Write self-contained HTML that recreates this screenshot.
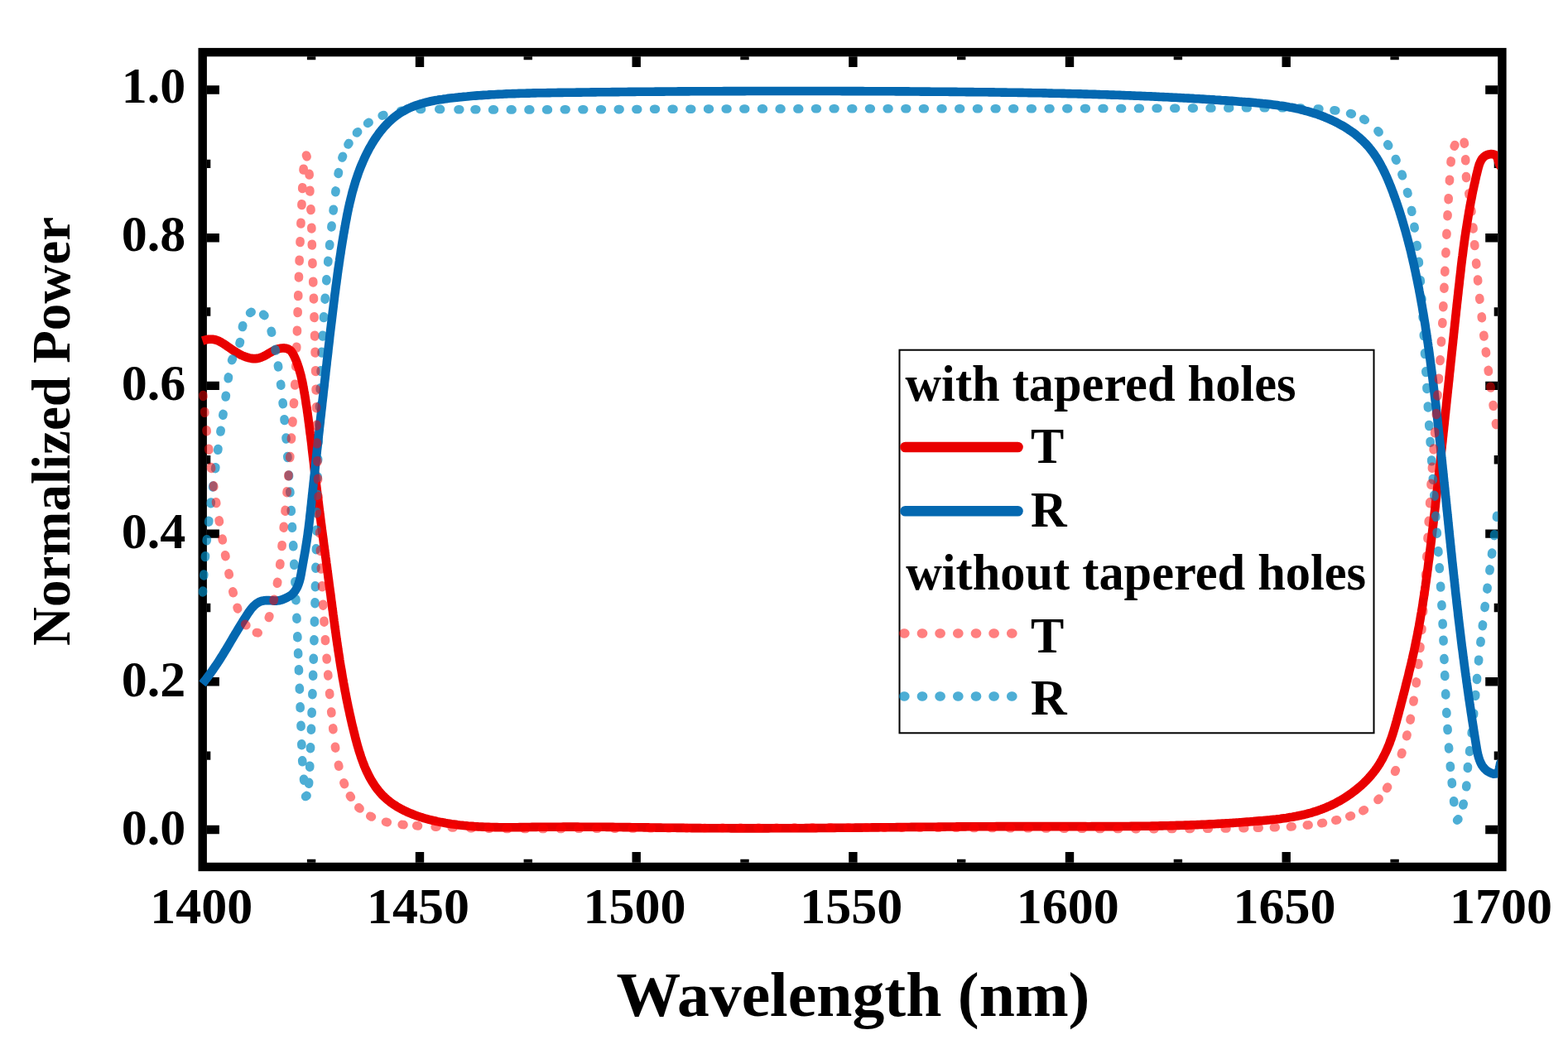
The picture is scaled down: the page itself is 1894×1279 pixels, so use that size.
<!DOCTYPE html>
<html><head><meta charset="utf-8"><title>Normalized Power vs Wavelength</title>
<style>
html,body{margin:0;padding:0;background:#fff;}
svg{display:block;}
text{font-family:"Liberation Serif","Times New Roman",serif;font-weight:bold;fill:#000;}
</style></head><body>
<svg width="1894" height="1279" viewBox="0 0 1894 1279">
<rect x="0" y="0" width="1894" height="1279" fill="#fff"/>
<rect x="244.7" y="63.1" width="1569.7" height="983.9" fill="none" stroke="#000" stroke-width="10.4"/>
<path d="M376.1 1041.8V1037.8 M376.1 68.3V72.3 M507.0 1041.8V1029.0 M507.0 68.3V81.1 M637.8 1041.8V1037.8 M637.8 68.3V72.3 M768.7 1041.8V1029.0 M768.7 68.3V81.1 M899.5 1041.8V1037.8 M899.5 68.3V72.3 M1030.4 1041.8V1029.0 M1030.4 68.3V81.1 M1161.2 1041.8V1037.8 M1161.2 68.3V72.3 M1292.0 1041.8V1029.0 M1292.0 68.3V81.1 M1422.9 1041.8V1037.8 M1422.9 68.3V72.3 M1553.7 1041.8V1029.0 M1553.7 68.3V81.1 M1684.6 1041.8V1037.8 M1684.6 68.3V72.3 M249.8 1002.0H264.9 M1809.2 1002.0H1794.2 M249.8 912.6H254.3 M1809.2 912.6H1804.7 M249.8 823.3H264.9 M1809.2 823.3H1794.2 M249.8 734.0H254.3 M1809.2 734.0H1804.7 M249.8 644.6H264.9 M1809.2 644.6H1794.2 M249.8 555.2H254.3 M1809.2 555.2H1804.7 M249.8 465.9H264.9 M1809.2 465.9H1794.2 M249.8 376.5H254.3 M1809.2 376.5H1804.7 M249.8 287.2H264.9 M1809.2 287.2H1794.2 M249.8 197.9H254.3 M1809.2 197.9H1804.7 M249.8 108.5H264.9 M1809.2 108.5H1794.2" stroke="#000" stroke-width="10.4" fill="none"/>
<defs><clipPath id="pc"><rect x="0" y="0" width="1809.3" height="1279"/></clipPath></defs>
<g clip-path="url(#pc)">
<path d="M244.6 411.6 L247.0 410.8 L249.4 410.2 L251.9 409.8 L254.4 409.7 L256.9 409.8 L259.3 410.2 L261.7 410.9 L264.1 411.8 L266.3 412.9 L268.5 414.2 L270.6 415.5 L272.7 416.9 L274.7 418.3 L276.8 419.8 L278.8 421.2 L280.9 422.6 L283.0 424.0 L285.1 425.3 L287.3 426.6 L289.5 427.8 L291.7 429.0 L294.0 430.0 L296.3 430.9 L298.7 431.7 L301.1 432.4 L303.5 432.9 L306.0 433.1 L308.5 433.1 L311.0 432.9 L313.5 432.3 L315.8 431.5 L318.1 430.5 L320.3 429.3 L322.5 428.1 L324.7 426.8 L326.8 425.6 L329.0 424.4 L331.2 423.2 L333.5 422.2 L335.9 421.4 L338.3 420.8 L340.8 420.5 L343.3 420.4 L345.8 420.8 L348.2 421.6 L350.3 422.8 L352.1 424.6 L353.5 426.7 L354.7 428.9 L355.8 431.1 L356.8 433.4 L357.8 435.7 L358.7 438.0 L359.5 440.4 L360.4 442.8 L361.1 445.1 L361.8 447.5 L362.5 449.9 L363.2 452.4 L363.8 454.8 L364.3 457.2 L364.9 459.7 L365.4 462.1 L365.9 464.6 L366.3 467.0 L366.8 469.5 L367.2 472.0 L367.6 474.4 L368.1 476.9 L368.5 479.4 L368.9 481.9 L369.3 484.3 L369.6 486.8 L370.0 489.3 L370.4 491.7 L370.8 494.2 L371.1 496.7 L371.5 499.2 L371.8 501.7 L372.2 504.1 L372.5 506.6 L372.8 509.1 L373.2 511.6 L373.5 514.1 L373.8 516.5 L374.1 519.0 L374.4 521.5 L374.7 524.0 L375.1 526.5 L375.4 529.0 L375.7 531.5 L376.0 533.9 L376.3 536.4 L376.6 538.9 L376.8 541.4 L377.1 543.9 L377.4 546.4 L377.7 548.9 L378.0 551.3 L378.3 553.8 L378.6 556.3 L378.9 558.8 L379.2 561.3 L379.4 563.8 L379.7 566.3 L380.0 568.7 L380.3 571.2 L380.6 573.7 L380.9 576.2 L381.2 578.7 L381.5 581.2 L381.8 583.7 L382.1 586.1 L382.4 588.6 L382.7 591.1 L383.0 593.6 L383.3 596.1 L383.6 598.6 L383.9 601.1 L384.2 603.5 L384.6 606.0 L384.9 608.5 L385.2 611.0 L385.5 613.5 L385.8 616.0 L386.1 618.4 L386.5 620.9 L386.8 623.4 L387.1 625.9 L387.4 628.4 L387.7 630.9 L388.1 633.3 L388.4 635.8 L388.7 638.3 L389.0 640.8 L389.4 643.3 L389.7 645.7 L390.0 648.2 L390.4 650.7 L390.7 653.2 L391.0 655.7 L391.3 658.2 L391.7 660.6 L392.0 663.1 L392.3 665.6 L392.7 668.1 L393.0 670.6 L393.3 673.0 L393.7 675.5 L394.0 678.0 L394.3 680.5 L394.7 683.0 L395.0 685.5 L395.3 687.9 L395.6 690.4 L396.0 692.9 L396.3 695.4 L396.6 697.9 L397.0 700.3 L397.3 702.8 L397.6 705.3 L397.9 707.8 L398.3 710.3 L398.6 712.8 L398.9 715.2 L399.3 717.7 L399.6 720.2 L399.9 722.7 L400.2 725.2 L400.6 727.6 L400.9 730.1 L401.2 732.6 L401.5 735.1 L401.9 737.6 L402.2 740.1 L402.5 742.5 L402.9 745.0 L403.2 747.5 L403.5 750.0 L403.9 752.5 L404.2 754.9 L404.5 757.4 L404.9 759.9 L405.2 762.4 L405.6 764.9 L405.9 767.3 L406.3 769.8 L406.6 772.3 L407.0 774.8 L407.3 777.2 L407.7 779.7 L408.1 782.2 L408.4 784.7 L408.8 787.2 L409.2 789.6 L409.6 792.1 L410.0 794.6 L410.3 797.0 L410.7 799.5 L411.1 802.0 L411.5 804.5 L411.9 806.9 L412.4 809.4 L412.8 811.9 L413.2 814.3 L413.6 816.8 L414.0 819.3 L414.5 821.7 L414.9 824.2 L415.4 826.7 L415.8 829.1 L416.3 831.6 L416.7 834.1 L417.2 836.5 L417.7 839.0 L418.1 841.4 L418.6 843.9 L419.1 846.3 L419.6 848.8 L420.1 851.2 L420.6 853.7 L421.1 856.1 L421.7 858.6 L422.2 861.0 L422.7 863.5 L423.3 865.9 L423.8 868.4 L424.4 870.8 L424.9 873.3 L425.5 875.7 L426.1 878.1 L426.7 880.6 L427.3 883.0 L427.9 885.4 L428.5 887.8 L429.1 890.3 L429.7 892.7 L430.4 895.1 L431.0 897.5 L431.7 899.9 L432.4 902.4 L433.1 904.8 L433.8 907.1 L434.6 909.5 L435.4 911.9 L436.1 914.3 L437.0 916.7 L437.8 919.0 L438.7 921.4 L439.6 923.7 L440.5 926.0 L441.5 928.3 L442.5 930.6 L443.6 932.9 L444.7 935.1 L445.8 937.4 L447.0 939.6 L448.2 941.8 L449.5 943.9 L450.8 946.0 L452.2 948.1 L453.6 950.2 L455.1 952.2 L456.6 954.2 L458.2 956.1 L459.8 958.0 L461.5 959.9 L463.3 961.7 L465.1 963.4 L466.9 965.0 L468.9 966.7 L470.8 968.2 L472.8 969.7 L474.9 971.2 L477.0 972.5 L479.1 973.9 L481.2 975.2 L483.4 976.4 L485.6 977.6 L487.8 978.7 L490.1 979.8 L492.4 980.9 L494.7 981.9 L497.0 982.8 L499.3 983.7 L501.6 984.6 L504.0 985.5 L506.4 986.3 L508.8 987.0 L511.1 987.8 L513.5 988.5 L516.0 989.2 L518.4 989.8 L520.8 990.4 L523.2 991.0 L525.7 991.5 L528.1 992.1 L530.6 992.6 L533.0 993.1 L535.5 993.5 L538.0 994.0 L540.4 994.4 L542.9 994.8 L545.4 995.2 L547.9 995.5 L550.3 995.8 L552.8 996.2 L555.3 996.5 L557.8 996.7 L560.3 997.0 L562.8 997.2 L565.3 997.5 L567.8 997.7 L570.3 997.9 L572.8 998.1 L575.2 998.2 L577.7 998.4 L580.2 998.5 L582.7 998.6 L585.2 998.7 L587.8 998.8 L590.3 998.9 L592.8 999.0 L595.3 999.0 L597.8 999.1 L600.3 999.1 L602.8 999.2 L605.3 999.2 L607.8 999.2 L610.3 999.2 L612.8 999.2 L615.3 999.2 L617.8 999.2 L620.3 999.2 L622.8 999.2 L625.3 999.2 L627.8 999.1 L630.3 999.1 L632.8 999.1 L635.3 999.0 L637.8 999.0 L640.3 999.0 L642.8 998.9 L645.3 998.9 L647.8 998.9 L650.3 998.8 L652.8 998.8 L655.3 998.8 L657.8 998.8 L660.3 998.7 L662.8 998.7 L665.3 998.7 L667.9 998.7 L670.4 998.7 L672.9 998.7 L675.4 998.7 L677.9 998.7 L680.4 998.6 L682.9 998.6 L685.4 998.6 L687.9 998.6 L690.4 998.6 L692.9 998.6 L695.4 998.6 L697.9 998.6 L700.4 998.7 L702.9 998.7 L705.4 998.7 L707.9 998.7 L710.4 998.7 L712.9 998.7 L715.4 998.7 L717.9 998.7 L720.4 998.8 L722.9 998.8 L725.4 998.8 L727.9 998.8 L730.4 998.8 L732.9 998.9 L735.4 998.9 L737.9 998.9 L740.4 998.9 L743.0 999.0 L745.5 999.0 L748.0 999.0 L750.5 999.0 L753.0 999.1 L755.5 999.1 L758.0 999.1 L760.5 999.1 L763.0 999.2 L765.5 999.2 L768.0 999.2 L770.5 999.3 L773.0 999.3 L775.5 999.3 L778.0 999.4 L780.5 999.4 L783.0 999.4 L785.5 999.5 L788.0 999.5 L790.5 999.5 L793.0 999.6 L795.5 999.6 L798.0 999.6 L800.5 999.7 L803.0 999.7 L805.5 999.7 L808.0 999.7 L810.5 999.8 L813.0 999.8 L815.5 999.8 L818.0 999.9 L820.6 999.9 L823.1 999.9 L825.6 999.9 L828.1 1000.0 L830.6 1000.0 L833.1 1000.0 L835.6 1000.1 L838.1 1000.1 L840.6 1000.1 L843.1 1000.1 L845.6 1000.1 L848.1 1000.2 L850.6 1000.2 L853.1 1000.2 L855.6 1000.2 L858.1 1000.2 L860.6 1000.3 L863.1 1000.3 L865.6 1000.3 L868.1 1000.3 L870.6 1000.3 L873.1 1000.3 L875.6 1000.3 L878.1 1000.3 L880.6 1000.3 L883.1 1000.4 L885.6 1000.4 L888.1 1000.4 L890.6 1000.4 L893.1 1000.4 L895.7 1000.4 L898.2 1000.4 L900.7 1000.4 L903.2 1000.4 L905.7 1000.4 L908.2 1000.4 L910.7 1000.4 L913.2 1000.4 L915.7 1000.4 L918.2 1000.4 L920.7 1000.4 L923.2 1000.4 L925.7 1000.4 L928.2 1000.4 L930.7 1000.3 L933.2 1000.3 L935.7 1000.3 L938.2 1000.3 L940.7 1000.3 L943.2 1000.3 L945.7 1000.3 L948.2 1000.3 L950.7 1000.3 L953.2 1000.3 L955.7 1000.2 L958.2 1000.2 L960.7 1000.2 L963.2 1000.2 L965.7 1000.2 L968.2 1000.2 L970.8 1000.2 L973.3 1000.1 L975.8 1000.1 L978.3 1000.1 L980.8 1000.1 L983.3 1000.1 L985.8 1000.1 L988.3 1000.0 L990.8 1000.0 L993.3 1000.0 L995.8 1000.0 L998.3 1000.0 L1000.8 999.9 L1003.3 999.9 L1005.8 999.9 L1008.3 999.9 L1010.8 999.8 L1013.3 999.8 L1015.8 999.8 L1018.3 999.8 L1020.8 999.8 L1023.3 999.7 L1025.8 999.7 L1028.3 999.7 L1030.8 999.7 L1033.3 999.6 L1035.8 999.6 L1038.3 999.6 L1040.8 999.6 L1043.3 999.5 L1045.9 999.5 L1048.4 999.5 L1050.9 999.5 L1053.4 999.4 L1055.9 999.4 L1058.4 999.4 L1060.9 999.4 L1063.4 999.3 L1065.9 999.3 L1068.4 999.3 L1070.9 999.3 L1073.4 999.2 L1075.9 999.2 L1078.4 999.2 L1080.9 999.2 L1083.4 999.1 L1085.9 999.1 L1088.4 999.1 L1090.9 999.0 L1093.4 999.0 L1095.9 999.0 L1098.4 999.0 L1100.9 998.9 L1103.4 998.9 L1105.9 998.9 L1108.4 998.9 L1110.9 998.8 L1113.4 998.8 L1115.9 998.8 L1118.4 998.8 L1120.9 998.8 L1123.5 998.7 L1126.0 998.7 L1128.5 998.7 L1131.0 998.7 L1133.5 998.6 L1136.0 998.6 L1138.5 998.6 L1141.0 998.6 L1143.5 998.5 L1146.0 998.5 L1148.5 998.5 L1151.0 998.5 L1153.5 998.5 L1156.0 998.4 L1158.5 998.4 L1161.0 998.4 L1163.5 998.4 L1166.0 998.4 L1168.5 998.3 L1171.0 998.3 L1173.5 998.3 L1176.0 998.3 L1178.5 998.3 L1181.0 998.3 L1183.5 998.2 L1186.0 998.2 L1188.5 998.2 L1191.0 998.2 L1193.5 998.2 L1196.0 998.2 L1198.6 998.2 L1201.1 998.2 L1203.6 998.1 L1206.1 998.1 L1208.6 998.1 L1211.1 998.1 L1213.6 998.1 L1216.1 998.1 L1218.6 998.1 L1221.1 998.1 L1223.6 998.1 L1226.1 998.1 L1228.6 998.1 L1231.1 998.1 L1233.6 998.1 L1236.1 998.1 L1238.6 998.1 L1241.1 998.1 L1243.6 998.1 L1246.1 998.1 L1248.6 998.1 L1251.1 998.1 L1253.6 998.1 L1256.1 998.1 L1258.6 998.1 L1261.1 998.1 L1263.6 998.1 L1266.1 998.1 L1268.6 998.1 L1271.2 998.1 L1273.7 998.1 L1276.2 998.1 L1278.7 998.1 L1281.2 998.1 L1283.7 998.1 L1286.2 998.1 L1288.7 998.1 L1291.2 998.1 L1293.7 998.1 L1296.2 998.1 L1298.7 998.1 L1301.2 998.1 L1303.7 998.1 L1306.2 998.1 L1308.7 998.1 L1311.2 998.1 L1313.7 998.2 L1316.2 998.2 L1318.7 998.1 L1321.2 998.1 L1323.7 998.1 L1326.2 998.1 L1328.7 998.1 L1331.2 998.1 L1333.7 998.1 L1336.2 998.1 L1338.7 998.1 L1341.2 998.1 L1343.7 998.1 L1346.3 998.1 L1348.8 998.1 L1351.3 998.1 L1353.8 998.0 L1356.3 998.0 L1358.8 998.0 L1361.3 998.0 L1363.8 998.0 L1366.3 997.9 L1368.8 997.9 L1371.3 997.9 L1373.8 997.9 L1376.3 997.8 L1378.8 997.8 L1381.3 997.8 L1383.8 997.7 L1386.3 997.7 L1388.8 997.7 L1391.3 997.6 L1393.8 997.6 L1396.3 997.5 L1398.8 997.5 L1401.3 997.4 L1403.8 997.4 L1406.3 997.3 L1408.8 997.3 L1411.3 997.2 L1413.8 997.1 L1416.3 997.1 L1418.8 997.0 L1421.3 996.9 L1423.8 996.9 L1426.3 996.8 L1428.8 996.7 L1431.4 996.6 L1433.9 996.6 L1436.4 996.5 L1438.9 996.4 L1441.4 996.3 L1443.9 996.2 L1446.4 996.1 L1448.9 996.0 L1451.4 995.9 L1453.9 995.8 L1456.4 995.7 L1458.9 995.5 L1461.4 995.4 L1463.9 995.3 L1466.4 995.2 L1468.9 995.0 L1471.4 994.9 L1473.9 994.8 L1476.4 994.6 L1478.9 994.5 L1481.4 994.3 L1483.9 994.2 L1486.4 994.0 L1488.9 993.9 L1491.4 993.7 L1493.9 993.5 L1496.4 993.4 L1498.9 993.2 L1501.3 993.0 L1503.8 992.8 L1506.3 992.6 L1508.8 992.5 L1511.3 992.3 L1513.8 992.1 L1516.3 991.8 L1518.8 991.6 L1521.3 991.4 L1523.8 991.2 L1526.3 991.0 L1528.8 990.7 L1531.3 990.5 L1533.8 990.3 L1536.3 990.0 L1538.8 989.7 L1541.2 989.5 L1543.7 989.2 L1546.2 988.9 L1548.7 988.5 L1551.2 988.2 L1553.7 987.9 L1556.1 987.5 L1558.6 987.1 L1561.1 986.7 L1563.5 986.2 L1566.0 985.8 L1568.5 985.3 L1570.9 984.8 L1573.3 984.2 L1575.8 983.7 L1578.2 983.1 L1580.6 982.4 L1583.0 981.8 L1585.5 981.1 L1587.8 980.3 L1590.2 979.6 L1592.6 978.8 L1595.0 977.9 L1597.3 977.1 L1599.6 976.1 L1602.0 975.2 L1604.3 974.2 L1606.5 973.2 L1608.8 972.1 L1611.1 971.0 L1613.3 969.9 L1615.5 968.7 L1617.7 967.5 L1619.9 966.3 L1622.0 965.0 L1624.1 963.7 L1626.3 962.3 L1628.3 960.9 L1630.4 959.5 L1632.5 958.1 L1634.5 956.6 L1636.5 955.1 L1638.4 953.5 L1640.4 951.9 L1642.3 950.3 L1644.2 948.7 L1646.0 947.0 L1647.8 945.3 L1649.6 943.5 L1651.4 941.7 L1653.1 939.9 L1654.7 938.0 L1656.4 936.1 L1658.0 934.2 L1659.5 932.3 L1661.1 930.3 L1662.5 928.2 L1663.9 926.2 L1665.3 924.1 L1666.7 922.0 L1667.9 919.8 L1669.2 917.6 L1670.4 915.4 L1671.5 913.2 L1672.6 911.0 L1673.7 908.7 L1674.8 906.4 L1675.8 904.1 L1676.7 901.8 L1677.7 899.5 L1678.6 897.2 L1679.4 894.8 L1680.3 892.5 L1681.1 890.1 L1681.9 887.7 L1682.7 885.3 L1683.4 883.0 L1684.1 880.6 L1684.8 878.2 L1685.5 875.8 L1686.2 873.3 L1686.9 870.9 L1687.5 868.5 L1688.2 866.1 L1688.8 863.7 L1689.5 861.3 L1690.1 858.8 L1690.7 856.4 L1691.4 854.0 L1692.0 851.6 L1692.6 849.1 L1693.3 846.7 L1693.9 844.3 L1694.5 841.9 L1695.1 839.5 L1695.8 837.0 L1696.4 834.6 L1697.0 832.2 L1697.6 829.8 L1698.2 827.3 L1698.8 824.9 L1699.4 822.5 L1700.1 820.0 L1700.7 817.6 L1701.3 815.2 L1701.8 812.7 L1702.4 810.3 L1703.0 807.9 L1703.6 805.4 L1704.2 803.0 L1704.8 800.6 L1705.3 798.1 L1705.9 795.7 L1706.4 793.3 L1707.0 790.8 L1707.5 788.4 L1708.1 785.9 L1708.6 783.5 L1709.1 781.0 L1709.6 778.6 L1710.1 776.1 L1710.6 773.7 L1711.1 771.2 L1711.6 768.8 L1712.1 766.3 L1712.6 763.8 L1713.0 761.4 L1713.5 758.9 L1714.0 756.5 L1714.4 754.0 L1714.8 751.5 L1715.3 749.1 L1715.7 746.6 L1716.1 744.1 L1716.5 741.7 L1717.0 739.2 L1717.4 736.7 L1717.8 734.3 L1718.2 731.8 L1718.6 729.3 L1718.9 726.8 L1719.3 724.4 L1719.7 721.9 L1720.1 719.4 L1720.4 716.9 L1720.8 714.5 L1721.2 712.0 L1721.5 709.5 L1721.9 707.0 L1722.2 704.6 L1722.6 702.1 L1722.9 699.6 L1723.2 697.1 L1723.6 694.6 L1723.9 692.1 L1724.2 689.7 L1724.6 687.2 L1724.9 684.7 L1725.2 682.2 L1725.5 679.7 L1725.8 677.3 L1726.2 674.8 L1726.5 672.3 L1726.8 669.8 L1727.1 667.3 L1727.4 664.8 L1727.7 662.3 L1728.0 659.9 L1728.3 657.4 L1728.6 654.9 L1728.9 652.4 L1729.2 649.9 L1729.5 647.4 L1729.8 645.0 L1730.1 642.5 L1730.4 640.0 L1730.7 637.5 L1731.0 635.0 L1731.3 632.5 L1731.6 630.0 L1731.8 627.5 L1732.1 625.1 L1732.4 622.6 L1732.7 620.1 L1733.0 617.6 L1733.3 615.1 L1733.6 612.6 L1733.9 610.1 L1734.1 607.7 L1734.4 605.2 L1734.7 602.7 L1735.0 600.2 L1735.3 597.7 L1735.6 595.2 L1735.8 592.7 L1736.1 590.2 L1736.4 587.8 L1736.7 585.3 L1736.9 582.8 L1737.2 580.3 L1737.5 577.8 L1737.8 575.3 L1738.0 572.8 L1738.3 570.3 L1738.6 567.8 L1738.9 565.4 L1739.1 562.9 L1739.4 560.4 L1739.7 557.9 L1740.0 555.4 L1740.2 552.9 L1740.5 550.4 L1740.8 547.9 L1741.0 545.4 L1741.3 543.0 L1741.6 540.5 L1741.8 538.0 L1742.1 535.5 L1742.4 533.0 L1742.6 530.5 L1742.9 528.0 L1743.2 525.5 L1743.4 523.0 L1743.7 520.6 L1744.0 518.1 L1744.2 515.6 L1744.5 513.1 L1744.8 510.6 L1745.0 508.1 L1745.3 505.6 L1745.5 503.1 L1745.8 500.6 L1746.1 498.2 L1746.3 495.7 L1746.6 493.2 L1746.9 490.7 L1747.1 488.2 L1747.4 485.7 L1747.6 483.2 L1747.9 480.7 L1748.2 478.2 L1748.4 475.7 L1748.7 473.3 L1748.9 470.8 L1749.2 468.3 L1749.5 465.8 L1749.7 463.3 L1750.0 460.8 L1750.3 458.3 L1750.5 455.8 L1750.8 453.3 L1751.0 450.8 L1751.3 448.4 L1751.6 445.9 L1751.8 443.4 L1752.1 440.9 L1752.3 438.4 L1752.6 435.9 L1752.9 433.4 L1753.1 430.9 L1753.4 428.4 L1753.6 425.9 L1753.9 423.5 L1754.2 421.0 L1754.4 418.5 L1754.7 416.0 L1755.0 413.5 L1755.2 411.0 L1755.5 408.5 L1755.8 406.0 L1756.0 403.5 L1756.3 401.1 L1756.5 398.6 L1756.8 396.1 L1757.1 393.6 L1757.3 391.1 L1757.6 388.6 L1757.9 386.1 L1758.1 383.6 L1758.4 381.1 L1758.7 378.7 L1758.9 376.2 L1759.2 373.7 L1759.5 371.2 L1759.7 368.7 L1760.0 366.2 L1760.3 363.7 L1760.6 361.2 L1760.8 358.7 L1761.1 356.3 L1761.4 353.8 L1761.6 351.3 L1761.9 348.8 L1762.2 346.3 L1762.5 343.8 L1762.8 341.3 L1763.0 338.8 L1763.3 336.3 L1763.6 333.9 L1763.9 331.4 L1764.2 328.9 L1764.5 326.4 L1764.7 323.9 L1765.0 321.4 L1765.3 318.9 L1765.6 316.5 L1765.9 314.0 L1766.2 311.5 L1766.6 309.0 L1766.9 306.5 L1767.2 304.0 L1767.5 301.6 L1767.8 299.1 L1768.2 296.6 L1768.5 294.1 L1768.8 291.6 L1769.2 289.1 L1769.5 286.7 L1769.9 284.2 L1770.3 281.7 L1770.6 279.2 L1771.0 276.8 L1771.4 274.3 L1771.8 271.8 L1772.2 269.3 L1772.6 266.9 L1773.0 264.4 L1773.4 261.9 L1773.8 259.5 L1774.2 257.0 L1774.6 254.5 L1775.1 252.1 L1775.5 249.6 L1776.0 247.1 L1776.4 244.7 L1776.9 242.2 L1777.4 239.8 L1777.9 237.3 L1778.3 234.8 L1778.8 232.4 L1779.3 229.9 L1779.9 227.5 L1780.4 225.0 L1780.9 222.6 L1781.5 220.2 L1782.0 217.7 L1782.6 215.3 L1783.1 212.8 L1783.7 210.4 L1784.3 208.0 L1784.9 205.5 L1785.5 203.1 L1786.2 200.7 L1786.9 198.3 L1787.9 196.0 L1789.0 193.7 L1790.3 191.6 L1792.0 189.8 L1793.9 188.2 L1796.2 187.1 L1798.6 186.4 L1801.1 186.1 L1803.5 186.3 L1805.9 187.1 L1807.7 188.9 L1808.8 191.1 L1809.6 193.5 L1810.3 195.9 L1811.0 198.3 L1812.1 200.5 L1814.0 202.0" fill="none" stroke="#E90000" stroke-width="10.6" stroke-linejoin="round"/>
<path d="M245.0 715.4l0.10 -1.80 M246.2 695.4l0.13 -1.80 M247.9 673.0l0.15 -1.79 M249.7 653.1l0.17 -1.79 M252.1 630.7l0.20 -1.79 M254.6 608.3l0.21 -1.79 M257.1 588.4l0.23 -1.79 M260.1 566.1l0.24 -1.78 M263.2 543.8l0.25 -1.78 M266.4 521.5l0.26 -1.78 M269.3 501.7l0.26 -1.78 M272.6 479.5l0.26 -1.78 M275.7 457.2l0.24 -1.78 M280.1 435.1l0.74 -1.64 M289.5 414.8l0.44 -1.74 M292.9 395.0l0.35 -1.77 M302.1 377.9l1.51 -0.98 M318.1 379.9l1.35 1.19 M327.7 399.9l0.43 1.75 M332.5 421.9l0.34 1.77 M335.9 441.6l0.27 1.78 M339.1 463.9l0.22 1.79 M341.6 486.3l0.18 1.79 M343.5 506.2l0.16 1.79 M345.5 528.6l0.15 1.79 M347.3 551.1l0.14 1.79 M348.9 573.5l0.13 1.80 M350.3 593.5l0.12 1.80 M351.7 616.0l0.11 1.80 M352.9 636.0l0.10 1.80 M354.2 658.4l0.10 1.80 M355.3 680.9l0.09 1.80 M356.4 702.2l0.09 1.80 M357.4 723.4l0.08 1.80 M358.4 745.9l0.08 1.80 M359.3 768.4l0.07 1.80 M360.1 788.4l0.07 1.80 M360.9 808.4l0.07 1.80 M361.8 830.9l0.07 1.80 M362.6 853.4l0.07 1.80 M363.5 875.9l0.07 1.80 M364.3 898.4l0.07 1.80 M365.2 918.4l0.12 1.80 M367.0 940.8l0.17 1.79 M369.1 962.0l1.44 -1.09 M373.0 946.6l0.15 -1.79 M374.2 926.6l0.06 -1.80 M375.0 904.1l0.07 -1.80 M375.9 881.6l0.07 -1.80 M376.6 861.6l0.06 -1.80 M377.4 839.1l0.06 -1.80 M378.1 816.6l0.05 -1.80 M378.7 796.6l0.05 -1.80 M379.4 774.1l0.05 -1.80 M379.9 751.6l0.04 -1.80 M380.5 729.1l0.04 -1.80 M380.9 709.1l0.04 -1.80 M381.4 686.6l0.04 -1.80 M381.9 664.1l0.04 -1.80 M382.3 641.5l0.04 -1.80 M382.7 620.1l0.04 -1.80 M383.2 598.7l0.04 -1.80 M383.6 577.3l0.04 -1.80 M384.1 555.9l0.04 -1.80 M384.6 534.6l0.05 -1.80 M385.3 513.2l0.05 -1.80 M385.9 491.8l0.06 -1.80 M386.7 470.4l0.07 -1.80 M387.6 449.0l0.08 -1.80 M388.6 426.5l0.09 -1.80 M389.7 406.5l0.10 -1.80 M391.0 384.0l0.12 -1.80 M392.6 361.6l0.13 -1.80 M394.3 339.1l0.15 -1.79 M396.2 316.7l0.16 -1.79 M398.1 296.8l0.18 -1.79 M400.4 274.4l0.20 -1.79 M402.6 254.5l0.21 -1.79 M405.3 232.2l0.22 -1.79 M408.6 209.9l0.34 -1.77 M413.4 190.5l0.61 -1.69 M420.5 174.5l0.95 -1.53 M430.9 160.5l1.25 -1.29 M444.1 148.9l1.50 -0.99 M461.7 139.6l1.68 -0.65 M484.1 134.0l1.78 -0.25 M507.2 132.0l1.80 -0.05 M530.3 131.9l1.80 0.02 M553.5 132.2l1.80 0.01 M573.5 132.3l1.80 0.01 M595.1 132.4l1.80 0.01 M616.8 132.4l1.80 0.00 M638.5 132.4l1.80 -0.00 M660.1 132.4l1.80 -0.00 M681.8 132.3l1.80 -0.01 M703.4 132.3l1.80 -0.01 M725.1 132.2l1.80 -0.01 M746.8 132.1l1.80 -0.01 M768.4 132.0l1.80 -0.01 M790.1 131.8l1.80 -0.01 M811.7 131.7l1.80 -0.01 M833.4 131.7l1.80 -0.01 M855.1 131.6l1.80 -0.01 M876.7 131.5l1.80 -0.00 M898.4 131.5l1.80 -0.00 M920.1 131.4l1.80 -0.00 M941.7 131.4l1.80 -0.00 M963.4 131.4l1.80 -0.00 M985.0 131.3l1.80 -0.00 M1006.7 131.3l1.80 -0.00 M1028.4 131.3l1.80 -0.00 M1050.0 131.3l1.80 -0.00 M1071.7 131.3l1.80 -0.00 M1093.4 131.3l1.80 -0.00 M1115.0 131.3l1.80 -0.00 M1136.7 131.3l1.80 -0.00 M1158.3 131.3l1.80 -0.00 M1180.0 131.2l1.80 -0.00 M1201.7 131.2l1.80 -0.00 M1223.3 131.2l1.80 -0.00 M1245.0 131.2l1.80 -0.00 M1266.7 131.2l1.80 -0.00 M1288.3 131.1l1.80 -0.00 M1310.0 131.1l1.80 -0.00 M1331.6 131.0l1.80 -0.00 M1353.3 131.0l1.80 -0.01 M1375.0 130.9l1.80 -0.01 M1396.6 130.8l1.80 -0.01 M1418.3 130.7l1.80 -0.01 M1440.0 130.6l1.80 -0.01 M1461.6 130.5l1.80 -0.01 M1483.3 130.4l1.80 -0.01 M1504.9 130.3l1.80 -0.01 M1526.6 130.2l1.80 -0.01 M1548.3 130.2l1.80 0.01 M1569.9 130.6l1.80 0.05 M1591.6 131.5l1.80 0.11 M1611.5 133.2l1.78 0.25 M1631.1 137.1l1.71 0.55 M1647.2 143.9l1.52 0.96 M1664.4 158.3l1.20 1.34 M1676.2 174.4l0.96 1.53 M1685.8 192.0l0.75 1.64 M1693.4 210.5l0.59 1.70 M1700.0 232.0l0.46 1.74 M1705.0 254.0l0.34 1.77 M1708.4 273.7l0.27 1.78 M1711.5 296.0l0.22 1.79 M1713.7 315.9l0.18 1.79 M1715.7 338.3l0.14 1.79 M1717.3 360.2l0.12 1.80 M1718.6 382.2l0.10 1.80 M1719.8 404.2l0.10 1.80 M1721.0 426.2l0.10 1.80 M1722.3 448.2l0.10 1.80 M1723.4 468.1l0.11 1.80 M1724.8 490.6l0.11 1.80 M1726.2 513.1l0.12 1.80 M1727.6 533.0l0.12 1.80 M1729.2 555.5l0.13 1.80 M1730.8 578.0l0.13 1.80 M1732.3 597.9l0.14 1.79 M1734.2 622.9l0.13 1.79 M1735.7 642.8l0.13 1.80 M1737.3 665.3l0.13 1.80 M1738.7 685.2l0.12 1.80 M1740.1 707.7l0.11 1.80 M1741.4 730.2l0.10 1.80 M1742.6 752.7l0.08 1.80 M1743.5 772.7l0.08 1.80 M1744.4 795.1l0.07 1.80 M1745.2 815.1l0.07 1.80 M1746.2 837.6l0.08 1.80 M1747.3 860.1l0.10 1.80 M1748.5 880.1l0.12 1.80 M1750.0 902.6l0.13 1.80 M1751.8 925.0l0.16 1.79 M1753.7 944.9l0.19 1.79 M1756.1 967.3l0.20 1.79 M1760.1 990.6l1.32 -1.22 M1767.3 972.5l0.41 -1.75 M1771.2 950.3l0.19 -1.79 M1772.8 927.9l0.17 -1.79 M1775.1 908.0l0.22 -1.79 M1777.7 885.6l0.19 -1.79 M1780.0 863.2l0.17 -1.79 M1782.1 840.8l0.16 -1.79 M1783.9 820.9l0.17 -1.79 M1786.0 798.5l0.18 -1.79 M1788.4 776.1l0.20 -1.79 M1790.8 756.2l0.22 -1.79 M1793.5 733.9l0.23 -1.79 M1796.4 711.6l0.23 -1.78 M1799.4 689.2l0.24 -1.78 M1802.0 669.4l0.24 -1.78 M1805.0 647.1l0.24 -1.78 M1807.9 624.7l0.23 -1.79" fill="none" stroke="rgb(1,139,195)" stroke-opacity="0.7" stroke-width="10.6" stroke-linecap="round"/>
<path d="M244.4 825.9 L246.0 824.0 L247.5 822.0 L249.1 820.0 L250.6 818.0 L252.1 816.0 L253.6 814.0 L255.0 812.0 L256.5 809.9 L257.9 807.9 L259.3 805.8 L260.7 803.7 L262.1 801.7 L263.5 799.6 L264.9 797.5 L266.2 795.4 L267.5 793.2 L268.9 791.1 L270.2 789.0 L271.5 786.8 L272.8 784.7 L274.1 782.6 L275.4 780.4 L276.6 778.3 L277.9 776.1 L279.2 773.9 L280.5 771.8 L281.7 769.6 L283.0 767.5 L284.3 765.3 L285.6 763.2 L286.9 761.0 L288.2 758.9 L289.5 756.7 L290.8 754.6 L292.1 752.5 L293.4 750.4 L294.8 748.2 L296.1 746.1 L297.5 744.0 L298.8 741.9 L300.2 739.8 L301.7 737.8 L303.1 735.8 L304.7 733.8 L306.4 732.0 L308.2 730.3 L310.2 728.7 L312.3 727.4 L314.6 726.4 L317.0 725.7 L319.5 725.3 L322.0 725.1 L324.5 725.1 L327.0 725.3 L329.5 725.4 L332.0 725.6 L334.5 725.6 L337.0 725.3 L339.4 724.7 L341.8 723.9 L344.1 722.9 L346.3 721.9 L348.5 720.7 L350.7 719.4 L352.7 717.9 L354.5 716.1 L356.0 714.2 L357.4 712.1 L358.7 709.9 L359.7 707.6 L360.6 705.3 L361.4 702.9 L362.1 700.5 L362.7 698.1 L363.2 695.6 L363.7 693.2 L364.1 690.7 L364.5 688.3 L365.0 685.8 L365.4 683.3 L365.8 680.9 L366.3 678.4 L366.7 675.9 L367.2 673.5 L367.6 671.0 L368.1 668.5 L368.5 666.1 L368.9 663.6 L369.3 661.1 L369.7 658.7 L370.1 656.2 L370.5 653.7 L370.9 651.2 L371.2 648.8 L371.6 646.3 L371.9 643.8 L372.2 641.3 L372.6 638.8 L372.9 636.3 L373.2 633.9 L373.5 631.4 L373.8 628.9 L374.1 626.4 L374.3 623.9 L374.6 621.4 L374.9 618.9 L375.2 616.4 L375.4 614.0 L375.7 611.5 L376.0 609.0 L376.2 606.5 L376.5 604.0 L376.8 601.5 L377.0 599.0 L377.3 596.5 L377.6 594.0 L377.8 591.5 L378.1 589.1 L378.4 586.6 L378.6 584.1 L378.9 581.6 L379.2 579.1 L379.4 576.6 L379.7 574.1 L380.0 571.6 L380.2 569.1 L380.5 566.6 L380.8 564.2 L381.0 561.7 L381.3 559.2 L381.6 556.7 L381.9 554.2 L382.1 551.7 L382.4 549.2 L382.7 546.7 L382.9 544.2 L383.2 541.8 L383.5 539.3 L383.7 536.8 L384.0 534.3 L384.3 531.8 L384.6 529.3 L384.8 526.8 L385.1 524.3 L385.4 521.8 L385.7 519.4 L385.9 516.9 L386.2 514.4 L386.5 511.9 L386.8 509.4 L387.0 506.9 L387.3 504.4 L387.6 501.9 L387.9 499.4 L388.1 497.0 L388.4 494.5 L388.7 492.0 L389.0 489.5 L389.2 487.0 L389.5 484.5 L389.8 482.0 L390.1 479.5 L390.4 477.0 L390.6 474.6 L390.9 472.1 L391.2 469.6 L391.5 467.1 L391.8 464.6 L392.0 462.1 L392.3 459.6 L392.6 457.1 L392.9 454.6 L393.2 452.2 L393.4 449.7 L393.7 447.2 L394.0 444.7 L394.3 442.2 L394.6 439.7 L394.8 437.2 L395.1 434.7 L395.4 432.3 L395.7 429.8 L396.0 427.3 L396.3 424.8 L396.5 422.3 L396.8 419.8 L397.1 417.3 L397.4 414.8 L397.7 412.3 L398.0 409.9 L398.2 407.4 L398.5 404.9 L398.8 402.4 L399.1 399.9 L399.4 397.4 L399.7 394.9 L400.0 392.4 L400.3 390.0 L400.6 387.5 L400.9 385.0 L401.2 382.5 L401.5 380.0 L401.8 377.5 L402.1 375.0 L402.4 372.6 L402.7 370.1 L403.0 367.6 L403.3 365.1 L403.6 362.6 L403.9 360.1 L404.2 357.6 L404.5 355.2 L404.9 352.7 L405.2 350.2 L405.5 347.7 L405.8 345.2 L406.2 342.8 L406.5 340.3 L406.8 337.8 L407.2 335.3 L407.5 332.8 L407.8 330.3 L408.2 327.9 L408.5 325.4 L408.9 322.9 L409.3 320.4 L409.6 317.9 L410.0 315.5 L410.3 313.0 L410.7 310.5 L411.1 308.0 L411.5 305.6 L411.8 303.1 L412.2 300.6 L412.6 298.1 L413.0 295.7 L413.4 293.2 L413.8 290.7 L414.2 288.3 L414.6 285.8 L415.0 283.3 L415.5 280.8 L415.9 278.4 L416.3 275.9 L416.8 273.4 L417.2 271.0 L417.6 268.5 L418.1 266.1 L418.6 263.6 L419.0 261.1 L419.5 258.7 L420.0 256.2 L420.5 253.8 L421.0 251.3 L421.6 248.9 L422.1 246.4 L422.7 244.0 L423.3 241.6 L423.9 239.1 L424.5 236.7 L425.1 234.3 L425.7 231.8 L426.4 229.4 L427.1 227.0 L427.8 224.6 L428.5 222.2 L429.2 219.8 L430.0 217.4 L430.8 215.1 L431.6 212.7 L432.4 210.3 L433.2 208.0 L434.1 205.6 L435.0 203.3 L435.9 201.0 L436.9 198.6 L437.9 196.3 L438.9 194.0 L439.9 191.8 L440.9 189.5 L442.0 187.2 L443.1 185.0 L444.3 182.8 L445.4 180.5 L446.6 178.3 L447.9 176.2 L449.1 174.0 L450.4 171.9 L451.8 169.7 L453.1 167.6 L454.5 165.6 L456.0 163.5 L457.4 161.5 L458.9 159.5 L460.5 157.5 L462.1 155.6 L463.7 153.7 L465.4 151.8 L467.1 150.0 L468.9 148.2 L470.7 146.5 L472.5 144.8 L474.4 143.1 L476.3 141.5 L478.3 140.0 L480.3 138.5 L482.4 137.1 L484.5 135.8 L486.7 134.5 L488.9 133.3 L491.1 132.1 L493.3 131.0 L495.6 130.0 L497.9 129.0 L500.3 128.1 L502.6 127.3 L505.0 126.5 L507.4 125.7 L509.8 125.0 L512.2 124.3 L514.6 123.7 L517.0 123.1 L519.5 122.5 L521.9 122.0 L524.4 121.5 L526.8 121.1 L529.3 120.6 L531.8 120.2 L534.2 119.9 L536.7 119.5 L539.2 119.2 L541.7 118.8 L544.2 118.5 L546.7 118.2 L549.2 118.0 L551.6 117.7 L554.1 117.4 L556.6 117.2 L559.1 116.9 L561.6 116.7 L564.1 116.5 L566.6 116.2 L569.1 116.0 L571.6 115.8 L574.1 115.6 L576.6 115.4 L579.1 115.3 L581.6 115.1 L584.1 114.9 L586.6 114.7 L589.1 114.6 L591.6 114.4 L594.1 114.3 L596.6 114.2 L599.1 114.0 L601.6 113.9 L604.1 113.8 L606.6 113.7 L609.1 113.5 L611.6 113.4 L614.1 113.3 L616.6 113.2 L619.1 113.1 L621.6 113.1 L624.1 113.0 L626.6 112.9 L629.1 112.8 L631.6 112.8 L634.1 112.7 L636.6 112.6 L639.1 112.6 L641.6 112.5 L644.1 112.4 L646.6 112.4 L649.1 112.3 L651.6 112.3 L654.1 112.2 L656.6 112.2 L659.1 112.2 L661.6 112.1 L664.1 112.1 L666.6 112.0 L669.2 112.0 L671.7 112.0 L674.2 111.9 L676.7 111.9 L679.2 111.9 L681.7 111.8 L684.2 111.8 L686.7 111.8 L689.2 111.7 L691.7 111.7 L694.2 111.7 L696.7 111.6 L699.2 111.6 L701.7 111.6 L704.2 111.5 L706.7 111.5 L709.2 111.5 L711.7 111.5 L714.2 111.4 L716.7 111.4 L719.2 111.4 L721.7 111.3 L724.2 111.3 L726.7 111.3 L729.2 111.2 L731.7 111.2 L734.3 111.2 L736.8 111.2 L739.3 111.1 L741.8 111.1 L744.3 111.1 L746.8 111.1 L749.3 111.0 L751.8 111.0 L754.3 111.0 L756.8 111.0 L759.3 110.9 L761.8 110.9 L764.3 110.9 L766.8 110.9 L769.3 110.8 L771.8 110.8 L774.3 110.8 L776.8 110.8 L779.3 110.7 L781.8 110.7 L784.3 110.7 L786.8 110.7 L789.3 110.7 L791.8 110.6 L794.3 110.6 L796.9 110.6 L799.4 110.6 L801.9 110.6 L804.4 110.5 L806.9 110.5 L809.4 110.5 L811.9 110.5 L814.4 110.5 L816.9 110.5 L819.4 110.4 L821.9 110.4 L824.4 110.4 L826.9 110.4 L829.4 110.4 L831.9 110.4 L834.4 110.3 L836.9 110.3 L839.4 110.3 L841.9 110.3 L844.4 110.3 L846.9 110.3 L849.4 110.3 L851.9 110.2 L854.4 110.2 L856.9 110.2 L859.5 110.2 L862.0 110.2 L864.5 110.2 L867.0 110.2 L869.5 110.2 L872.0 110.2 L874.5 110.1 L877.0 110.1 L879.5 110.1 L882.0 110.1 L884.5 110.1 L887.0 110.1 L889.5 110.1 L892.0 110.1 L894.5 110.1 L897.0 110.1 L899.5 110.1 L902.0 110.0 L904.5 110.0 L907.0 110.0 L909.5 110.0 L912.0 110.0 L914.5 110.0 L917.0 110.0 L919.5 110.0 L922.1 110.0 L924.6 110.0 L927.1 110.0 L929.6 110.0 L932.1 110.0 L934.6 110.0 L937.1 110.0 L939.6 110.0 L942.1 110.0 L944.6 110.0 L947.1 110.0 L949.6 110.0 L952.1 110.0 L954.6 110.0 L957.1 110.0 L959.6 110.0 L962.1 110.0 L964.6 110.0 L967.1 110.0 L969.6 110.0 L972.1 110.0 L974.6 110.0 L977.1 110.0 L979.6 110.0 L982.2 110.0 L984.7 110.0 L987.2 110.0 L989.7 110.0 L992.2 110.0 L994.7 110.0 L997.2 110.0 L999.7 110.0 L1002.2 110.0 L1004.7 110.0 L1007.2 110.0 L1009.7 110.0 L1012.2 110.0 L1014.7 110.0 L1017.2 110.1 L1019.7 110.1 L1022.2 110.1 L1024.7 110.1 L1027.2 110.1 L1029.7 110.1 L1032.2 110.1 L1034.7 110.1 L1037.2 110.1 L1039.7 110.1 L1042.2 110.1 L1044.8 110.2 L1047.3 110.2 L1049.8 110.2 L1052.3 110.2 L1054.8 110.2 L1057.3 110.2 L1059.8 110.2 L1062.3 110.2 L1064.8 110.3 L1067.3 110.3 L1069.8 110.3 L1072.3 110.3 L1074.8 110.3 L1077.3 110.3 L1079.8 110.3 L1082.3 110.4 L1084.8 110.4 L1087.3 110.4 L1089.8 110.4 L1092.3 110.4 L1094.8 110.4 L1097.3 110.4 L1099.8 110.5 L1102.3 110.5 L1104.8 110.5 L1107.4 110.5 L1109.9 110.5 L1112.4 110.6 L1114.9 110.6 L1117.4 110.6 L1119.9 110.6 L1122.4 110.6 L1124.9 110.7 L1127.4 110.7 L1129.9 110.7 L1132.4 110.7 L1134.9 110.7 L1137.4 110.8 L1139.9 110.8 L1142.4 110.8 L1144.9 110.8 L1147.4 110.9 L1149.9 110.9 L1152.4 110.9 L1154.9 110.9 L1157.4 111.0 L1159.9 111.0 L1162.4 111.0 L1164.9 111.0 L1167.4 111.1 L1170.0 111.1 L1172.5 111.1 L1175.0 111.1 L1177.5 111.2 L1180.0 111.2 L1182.5 111.2 L1185.0 111.2 L1187.5 111.3 L1190.0 111.3 L1192.5 111.3 L1195.0 111.4 L1197.5 111.4 L1200.0 111.4 L1202.5 111.5 L1205.0 111.5 L1207.5 111.5 L1210.0 111.6 L1212.5 111.6 L1215.0 111.6 L1217.5 111.7 L1220.0 111.7 L1222.5 111.7 L1225.0 111.8 L1227.5 111.8 L1230.0 111.9 L1232.5 111.9 L1235.1 111.9 L1237.6 112.0 L1240.1 112.0 L1242.6 112.1 L1245.1 112.1 L1247.6 112.2 L1250.1 112.2 L1252.6 112.3 L1255.1 112.3 L1257.6 112.3 L1260.1 112.4 L1262.6 112.4 L1265.1 112.5 L1267.6 112.6 L1270.1 112.6 L1272.6 112.7 L1275.1 112.7 L1277.6 112.8 L1280.1 112.8 L1282.6 112.9 L1285.1 112.9 L1287.6 113.0 L1290.1 113.1 L1292.6 113.1 L1295.1 113.2 L1297.6 113.2 L1300.1 113.3 L1302.6 113.4 L1305.2 113.4 L1307.7 113.5 L1310.2 113.6 L1312.7 113.6 L1315.2 113.7 L1317.7 113.8 L1320.2 113.9 L1322.7 113.9 L1325.2 114.0 L1327.7 114.1 L1330.2 114.2 L1332.7 114.2 L1335.2 114.3 L1337.7 114.4 L1340.2 114.5 L1342.7 114.6 L1345.2 114.6 L1347.7 114.7 L1350.2 114.8 L1352.7 114.9 L1355.2 115.0 L1357.7 115.1 L1360.2 115.2 L1362.7 115.3 L1365.2 115.4 L1367.7 115.5 L1370.2 115.6 L1372.7 115.7 L1375.2 115.8 L1377.7 115.9 L1380.2 116.0 L1382.7 116.1 L1385.2 116.2 L1387.7 116.3 L1390.2 116.4 L1392.7 116.5 L1395.2 116.6 L1397.7 116.7 L1400.2 116.9 L1402.7 117.0 L1405.2 117.1 L1407.7 117.2 L1410.2 117.3 L1412.7 117.5 L1415.2 117.6 L1417.7 117.7 L1420.3 117.8 L1422.8 118.0 L1425.3 118.1 L1427.8 118.2 L1430.3 118.4 L1432.8 118.5 L1435.3 118.6 L1437.8 118.8 L1440.3 118.9 L1442.8 119.1 L1445.3 119.2 L1447.8 119.3 L1450.3 119.5 L1452.8 119.6 L1455.3 119.8 L1457.8 120.0 L1460.3 120.1 L1462.7 120.3 L1465.2 120.4 L1467.7 120.6 L1470.2 120.7 L1472.7 120.9 L1475.2 121.1 L1477.7 121.2 L1480.2 121.4 L1482.7 121.6 L1485.2 121.8 L1487.7 121.9 L1490.2 122.1 L1492.7 122.3 L1495.2 122.5 L1497.7 122.7 L1500.2 122.9 L1502.7 123.0 L1505.2 123.2 L1507.7 123.4 L1510.2 123.6 L1512.7 123.8 L1515.2 124.0 L1517.7 124.3 L1520.2 124.5 L1522.7 124.7 L1525.2 125.0 L1527.7 125.2 L1530.2 125.5 L1532.6 125.8 L1535.1 126.1 L1537.6 126.4 L1540.1 126.7 L1542.6 127.0 L1545.1 127.4 L1547.5 127.7 L1550.0 128.1 L1552.5 128.5 L1555.0 128.9 L1557.4 129.4 L1559.9 129.8 L1562.3 130.3 L1564.8 130.8 L1567.2 131.4 L1569.7 131.9 L1572.1 132.5 L1574.5 133.1 L1577.0 133.8 L1579.4 134.4 L1581.8 135.1 L1584.2 135.8 L1586.6 136.6 L1589.0 137.3 L1591.3 138.1 L1593.7 139.0 L1596.0 139.8 L1598.4 140.7 L1600.7 141.7 L1603.0 142.6 L1605.3 143.6 L1607.6 144.6 L1609.9 145.7 L1612.1 146.8 L1614.4 147.9 L1616.6 149.1 L1618.8 150.3 L1621.0 151.5 L1623.1 152.7 L1625.3 154.0 L1627.4 155.4 L1629.5 156.8 L1631.5 158.2 L1633.6 159.6 L1635.6 161.1 L1637.6 162.6 L1639.5 164.2 L1641.4 165.8 L1643.3 167.5 L1645.2 169.2 L1647.0 170.9 L1648.8 172.7 L1650.5 174.5 L1652.2 176.3 L1653.8 178.2 L1655.4 180.2 L1656.9 182.1 L1658.4 184.1 L1659.9 186.2 L1661.3 188.3 L1662.7 190.3 L1664.0 192.5 L1665.3 194.6 L1666.5 196.8 L1667.8 199.0 L1668.9 201.2 L1670.1 203.4 L1671.2 205.6 L1672.3 207.9 L1673.4 210.2 L1674.4 212.4 L1675.4 214.7 L1676.4 217.0 L1677.4 219.3 L1678.3 221.6 L1679.3 224.0 L1680.2 226.3 L1681.1 228.6 L1682.0 231.0 L1682.9 233.3 L1683.7 235.7 L1684.6 238.0 L1685.4 240.4 L1686.3 242.7 L1687.1 245.1 L1687.9 247.5 L1688.7 249.9 L1689.5 252.2 L1690.3 254.6 L1691.0 257.0 L1691.8 259.4 L1692.5 261.8 L1693.3 264.2 L1694.0 266.6 L1694.7 269.0 L1695.4 271.4 L1696.1 273.8 L1696.8 276.2 L1697.5 278.6 L1698.2 281.0 L1698.8 283.4 L1699.5 285.8 L1700.1 288.2 L1700.8 290.7 L1701.4 293.1 L1702.0 295.5 L1702.7 297.9 L1703.3 300.4 L1703.9 302.8 L1704.5 305.2 L1705.0 307.7 L1705.6 310.1 L1706.2 312.5 L1706.7 315.0 L1707.3 317.4 L1707.9 319.9 L1708.4 322.3 L1708.9 324.8 L1709.5 327.2 L1710.0 329.7 L1710.5 332.1 L1711.0 334.6 L1711.5 337.0 L1712.0 339.5 L1712.5 341.9 L1713.0 344.4 L1713.5 346.8 L1714.0 349.3 L1714.4 351.7 L1714.9 354.2 L1715.4 356.7 L1715.8 359.1 L1716.3 361.6 L1716.7 364.1 L1717.1 366.5 L1717.6 369.0 L1718.0 371.5 L1718.4 373.9 L1718.8 376.4 L1719.3 378.9 L1719.7 381.3 L1720.1 383.8 L1720.5 386.3 L1720.9 388.7 L1721.3 391.2 L1721.7 393.7 L1722.0 396.2 L1722.4 398.6 L1722.8 401.1 L1723.2 403.6 L1723.5 406.1 L1723.9 408.6 L1724.3 411.0 L1724.6 413.5 L1725.0 416.0 L1725.3 418.5 L1725.7 420.9 L1726.0 423.4 L1726.4 425.9 L1726.7 428.4 L1727.0 430.9 L1727.4 433.4 L1727.7 435.8 L1728.0 438.3 L1728.3 440.8 L1728.7 443.3 L1729.0 445.8 L1729.3 448.2 L1729.6 450.7 L1729.9 453.2 L1730.3 455.7 L1730.6 458.2 L1730.9 460.7 L1731.2 463.2 L1731.5 465.6 L1731.8 468.1 L1732.1 470.6 L1732.4 473.1 L1732.7 475.6 L1733.0 478.1 L1733.3 480.6 L1733.6 483.0 L1733.9 485.5 L1734.2 488.0 L1734.5 490.5 L1734.8 493.0 L1735.0 495.5 L1735.3 498.0 L1735.6 500.5 L1735.9 502.9 L1736.2 505.4 L1736.5 507.9 L1736.7 510.4 L1737.0 512.9 L1737.3 515.4 L1737.6 517.9 L1737.8 520.4 L1738.1 522.9 L1738.4 525.3 L1738.7 527.8 L1738.9 530.3 L1739.2 532.8 L1739.5 535.3 L1739.7 537.8 L1740.0 540.3 L1740.3 542.8 L1740.5 545.3 L1740.8 547.7 L1741.1 550.2 L1741.3 552.7 L1741.6 555.2 L1741.9 557.7 L1742.1 560.2 L1742.4 562.7 L1742.6 565.2 L1742.9 567.7 L1743.2 570.2 L1743.4 572.7 L1743.7 575.1 L1743.9 577.6 L1744.2 580.1 L1744.4 582.6 L1744.7 585.1 L1745.0 587.6 L1745.2 590.1 L1745.5 592.6 L1745.7 595.1 L1746.0 597.6 L1746.2 600.1 L1746.5 602.5 L1746.7 605.0 L1747.0 607.5 L1747.2 610.0 L1747.5 612.5 L1747.7 615.0 L1748.0 617.5 L1748.3 620.0 L1748.5 622.5 L1748.8 625.0 L1749.0 627.5 L1749.3 629.9 L1749.5 632.4 L1749.8 634.9 L1750.0 637.4 L1750.3 639.9 L1750.5 642.4 L1750.8 644.9 L1751.0 647.4 L1751.3 649.9 L1751.6 652.4 L1751.8 654.9 L1752.1 657.3 L1752.3 659.8 L1752.6 662.3 L1752.8 664.8 L1753.1 667.3 L1753.4 669.8 L1753.6 672.3 L1753.9 674.8 L1754.1 677.3 L1754.4 679.8 L1754.7 682.3 L1754.9 684.7 L1755.2 687.2 L1755.5 689.7 L1755.7 692.2 L1756.0 694.7 L1756.3 697.2 L1756.5 699.7 L1756.8 702.2 L1757.1 704.7 L1757.3 707.2 L1757.6 709.6 L1757.9 712.1 L1758.1 714.6 L1758.4 717.1 L1758.7 719.6 L1759.0 722.1 L1759.3 724.6 L1759.5 727.1 L1759.8 729.6 L1760.1 732.0 L1760.4 734.5 L1760.7 737.0 L1761.0 739.5 L1761.2 742.0 L1761.5 744.5 L1761.8 747.0 L1762.1 749.5 L1762.4 751.9 L1762.7 754.4 L1763.0 756.9 L1763.3 759.4 L1763.6 761.9 L1763.9 764.4 L1764.2 766.9 L1764.5 769.3 L1764.8 771.8 L1765.1 774.3 L1765.4 776.8 L1765.7 779.3 L1766.0 781.8 L1766.4 784.3 L1766.7 786.7 L1767.0 789.2 L1767.3 791.7 L1767.6 794.2 L1768.0 796.7 L1768.3 799.2 L1768.6 801.6 L1768.9 804.1 L1769.3 806.6 L1769.6 809.1 L1769.9 811.6 L1770.3 814.0 L1770.6 816.5 L1771.0 819.0 L1771.3 821.5 L1771.6 824.0 L1772.0 826.4 L1772.3 828.9 L1772.7 831.4 L1773.0 833.9 L1773.4 836.4 L1773.7 838.8 L1774.1 841.3 L1774.4 843.8 L1774.8 846.3 L1775.2 848.8 L1775.5 851.2 L1775.9 853.7 L1776.3 856.2 L1776.6 858.7 L1777.0 861.1 L1777.4 863.6 L1777.8 866.1 L1778.1 868.6 L1778.5 871.0 L1778.9 873.5 L1779.3 876.0 L1779.7 878.5 L1780.0 880.9 L1780.4 883.4 L1780.8 885.9 L1781.2 888.4 L1781.6 890.8 L1782.0 893.3 L1782.4 895.8 L1782.8 898.3 L1783.2 900.7 L1783.6 903.2 L1784.0 905.7 L1784.5 908.1 L1785.0 910.6 L1785.6 913.0 L1786.3 915.4 L1787.1 917.8 L1788.0 920.1 L1789.1 922.4 L1790.3 924.6 L1791.8 926.6 L1793.4 928.5 L1795.2 930.2 L1797.2 931.7 L1799.4 932.9 L1801.7 933.9 L1804.1 934.6 L1806.6 934.5 L1808.8 933.3 L1810.1 931.3 L1810.9 928.9 L1811.4 926.4 L1811.8 924.0 L1812.3 921.5 L1814.0 921.0" fill="none" stroke="#0468B0" stroke-width="10.6" stroke-linejoin="round"/>
<path d="M245.4 477.1l0.16 1.79 M247.2 497.0l0.17 1.79 M249.5 519.4l0.19 1.79 M252.1 541.8l0.22 1.79 M254.9 564.1l0.24 1.78 M258.0 586.4l0.26 1.78 M261.0 606.2l0.28 1.78 M264.6 628.4l0.30 1.77 M268.5 650.6l0.32 1.77 M272.1 670.3l0.34 1.77 M276.4 692.4l0.37 1.76 M281.3 714.4l0.42 1.75 M286.6 733.7l0.54 1.72 M296.2 753.9l1.16 1.38 M309.9 764.1l1.78 0.25 M324.8 745.9l0.58 -1.70 M330.5 725.5l0.40 -1.76 M334.9 704.7l0.33 -1.77 M338.2 682.4l0.21 -1.79 M340.5 660.0l0.17 -1.79 M342.7 637.6l0.17 -1.79 M344.5 617.7l0.17 -1.79 M346.5 595.2l0.16 -1.79 M348.3 575.3l0.15 -1.79 M350.2 552.9l0.15 -1.79 M351.9 530.4l0.13 -1.79 M353.4 510.4l0.13 -1.80 M354.9 488.0l0.11 -1.80 M356.2 465.5l0.10 -1.80 M357.3 443.0l0.08 -1.80 M358.2 420.5l0.07 -1.80 M358.9 400.5l0.06 -1.80 M359.6 378.0l0.05 -1.80 M360.2 358.0l0.05 -1.80 M360.9 335.5l0.06 -1.80 M361.6 315.5l0.07 -1.80 M362.5 293.0l0.07 -1.80 M363.4 270.5l0.07 -1.80 M364.4 248.0l0.07 -1.80 M365.2 228.0l0.08 -1.80 M366.5 205.5l0.17 -1.79 M370.0 187.5l0.61 1.69 M373.5 209.7l0.14 1.79 M374.3 229.7l0.05 1.80 M375.4 252.2l0.10 1.80 M376.3 274.7l0.06 1.80 M376.8 294.7l0.04 1.80 M377.4 317.2l0.06 1.80 M378.2 339.7l0.06 1.80 M378.9 359.7l0.06 1.80 M379.5 382.2l0.05 1.80 M380.1 404.7l0.04 1.80 M380.6 424.7l0.04 1.80 M381.1 447.2l0.04 1.80 M381.6 469.7l0.04 1.80 M382.0 491.3l0.04 1.80 M382.5 512.9l0.04 1.80 M382.9 534.5l0.04 1.80 M383.4 556.2l0.04 1.80 M384.0 577.8l0.05 1.80 M384.6 599.4l0.05 1.80 M385.3 620.9l0.06 1.80 M386.1 642.5l0.07 1.80 M386.9 664.1l0.08 1.80 M387.9 685.7l0.09 1.80 M389.0 707.3l0.10 1.80 M390.2 729.8l0.11 1.80 M391.5 749.8l0.11 1.80 M392.9 772.2l0.13 1.80 M394.6 794.7l0.14 1.79 M396.2 814.6l0.15 1.79 M398.1 837.1l0.16 1.79 M400.2 859.5l0.18 1.79 M402.2 879.4l0.19 1.79 M404.9 901.8l0.26 1.78 M408.9 923.9l0.43 1.75 M415.4 945.4l0.65 1.68 M422.9 961.2l0.94 1.54 M433.3 975.3l1.30 1.25 M447.3 985.7l1.58 0.86 M466.0 992.7l1.76 0.39 M485.7 995.9l1.79 0.19 M503.2 997.3l1.80 0.11 M525.7 998.6l1.80 0.09 M545.7 999.5l1.80 0.07 M568.2 1000.2l1.80 0.05 M589.9 1000.6l1.80 0.03 M611.6 1000.9l1.80 0.01 M633.3 1001.0l1.80 0.00 M655.0 1001.0l1.80 -0.00 M676.7 1000.9l1.80 -0.01 M698.4 1000.8l1.80 -0.01 M720.1 1000.7l1.80 -0.01 M741.8 1000.6l1.80 -0.01 M763.5 1000.5l1.80 -0.01 M785.2 1000.3l1.80 -0.01 M806.9 1000.2l1.80 -0.01 M828.6 1000.1l1.80 -0.01 M850.3 1000.0l1.80 -0.01 M872.0 999.9l1.80 -0.01 M893.7 999.8l1.80 -0.01 M915.4 999.8l1.80 -0.01 M937.1 999.7l1.80 -0.01 M958.8 999.6l1.80 -0.00 M980.5 999.6l1.80 -0.00 M1002.2 999.6l1.80 -0.00 M1023.9 999.5l1.80 -0.00 M1045.6 999.5l1.80 0.00 M1067.3 999.6l1.80 0.00 M1089.0 999.6l1.80 0.00 M1110.7 999.6l1.80 0.00 M1132.4 999.7l1.80 0.01 M1154.1 999.8l1.80 0.01 M1175.8 999.9l1.80 0.01 M1197.6 1000.0l1.80 0.01 M1219.3 1000.1l1.80 0.01 M1241.0 1000.3l1.80 0.01 M1262.7 1000.5l1.80 0.01 M1284.4 1000.6l1.80 0.01 M1306.1 1000.8l1.80 0.01 M1327.8 1000.9l1.80 0.01 M1349.5 1001.0l1.80 0.01 M1371.2 1001.1l1.80 0.00 M1392.9 1001.1l1.80 -0.00 M1414.6 1001.0l1.80 -0.01 M1436.3 1000.9l1.80 -0.01 M1458.0 1000.8l1.80 -0.02 M1479.7 1000.5l1.80 -0.02 M1501.4 1000.2l1.80 -0.03 M1518.9 999.8l1.80 -0.04 M1538.9 999.3l1.80 -0.06 M1558.9 998.4l1.80 -0.12 M1578.8 996.6l1.79 -0.20 M1596.2 994.2l1.77 -0.31 M1613.3 990.7l1.75 -0.44 M1630.2 985.9l1.70 -0.58 M1646.3 979.1l1.57 -0.87 M1664.4 965.9l1.27 -1.27 M1675.1 952.1l0.95 -1.53 M1685.1 931.9l0.70 -1.66 M1692.9 910.8l0.55 -1.72 M1699.1 889.2l0.43 -1.75 M1703.5 869.6l0.35 -1.77 M1707.4 847.5l0.27 -1.78 M1710.6 825.2l0.23 -1.79 M1713.2 802.8l0.20 -1.79 M1715.3 782.9l0.17 -1.79 M1717.3 761.0l0.15 -1.79 M1719.0 739.0l0.13 -1.80 M1720.6 717.1l0.12 -1.80 M1722.0 695.1l0.11 -1.80 M1723.3 673.1l0.10 -1.80 M1724.5 650.6l0.10 -1.80 M1725.7 630.7l0.11 -1.80 M1727.1 608.2l0.11 -1.80 M1728.5 585.7l0.12 -1.80 M1729.9 565.7l0.13 -1.80 M1731.6 543.3l0.13 -1.80 M1733.1 523.3l0.13 -1.79 M1734.8 500.9l0.13 -1.79 M1736.4 478.4l0.13 -1.80 M1737.9 458.5l0.13 -1.80 M1739.5 436.0l0.12 -1.80 M1740.9 413.5l0.11 -1.80 M1742.3 391.0l0.10 -1.80 M1743.3 371.1l0.09 -1.80 M1744.4 348.6l0.08 -1.80 M1745.3 328.6l0.08 -1.80 M1746.4 306.1l0.08 -1.80 M1747.4 283.6l0.09 -1.80 M1748.5 261.1l0.09 -1.80 M1749.6 241.1l0.10 -1.80 M1750.9 218.6l0.12 -1.80 M1752.5 196.2l0.15 -1.79 M1756.7 176.7l0.73 -1.64 M1768.6 171.8l0.31 1.77 M1770.2 192.4l0.03 1.80 M1771.0 213.1l0.18 1.79 M1774.3 233.5l0.29 1.78 M1777.2 254.0l0.21 1.79 M1779.4 274.6l0.17 1.79 M1781.2 295.2l0.15 1.79 M1783.1 317.6l0.16 1.79 M1785.0 337.6l0.17 1.79 M1787.2 360.0l0.19 1.79 M1789.7 382.4l0.20 1.79 M1792.3 404.7l0.22 1.79 M1794.8 424.6l0.23 1.79 M1797.7 446.9l0.24 1.78 M1800.4 466.7l0.25 1.78 M1803.6 489.0l0.26 1.78 M1806.9 511.3l0.27 1.78" fill="none" stroke="rgb(255,0,0)" stroke-opacity="0.5" stroke-width="10.6" stroke-linecap="round"/>
</g>
<text x="224.2" y="1020.2" font-size="62.0" text-anchor="end">0.0</text>
<text x="224.2" y="841.0" font-size="62.0" text-anchor="end">0.2</text>
<text x="224.2" y="661.8" font-size="62.0" text-anchor="end">0.4</text>
<text x="224.2" y="482.5" font-size="62.0" text-anchor="end">0.6</text>
<text x="224.2" y="303.3" font-size="62.0" text-anchor="end">0.8</text>
<text x="224.2" y="124.1" font-size="62.0" text-anchor="end">1.0</text>
<text x="243.3" y="1115.2" font-size="62.0" text-anchor="middle">1400</text>
<text x="504.9" y="1115.2" font-size="62.0" text-anchor="middle">1450</text>
<text x="766.6" y="1115.2" font-size="62.0" text-anchor="middle">1500</text>
<text x="1028.2" y="1115.2" font-size="62.0" text-anchor="middle">1550</text>
<text x="1289.8" y="1115.2" font-size="62.0" text-anchor="middle">1600</text>
<text x="1551.5" y="1115.2" font-size="62.0" text-anchor="middle">1650</text>
<text x="1813.1" y="1115.2" font-size="62.0" text-anchor="middle">1700</text>
<text x="1030.5" y="1226.5" font-size="77" text-anchor="middle" textLength="572" lengthAdjust="spacingAndGlyphs">Wavelength (nm)</text>
<text transform="translate(83.8 521) rotate(-90)" x="0" y="0" font-size="65" text-anchor="middle">Normalized Power</text>
<rect x="1086.5" y="422.7" width="573" height="462.6" fill="#fff" stroke="#000" stroke-width="2"/>
<text x="1093.5" y="483.5" font-size="60.4">with tapered holes</text>
<line x1="1093.5" y1="540" x2="1229.5" y2="540" stroke="#E90000" stroke-width="12.6" stroke-linecap="round"/>
<text x="1245" y="559.4" font-size="60.4">T</text>
<line x1="1093.5" y1="617.3" x2="1229.5" y2="617.3" stroke="#0468B0" stroke-width="12.6" stroke-linecap="round"/>
<text x="1245" y="636.3" font-size="60.4">R</text>
<text x="1094.2" y="711.8" font-size="60.4">without tapered holes</text>
<path d="M1091.7 765.0h1.2 M1113.4 765.0h1.2 M1135.0 765.0h1.2 M1156.7 765.0h1.2 M1178.4 765.0h1.2 M1200.0 765.0h1.2 M1221.7 765.0h1.2" stroke="rgb(255,0,0)" stroke-opacity="0.5" stroke-width="11.5" stroke-linecap="round"/>
<text x="1245" y="787.6" font-size="60.4">T</text>
<path d="M1091.7 841.0h1.2 M1113.4 841.0h1.2 M1135.0 841.0h1.2 M1156.7 841.0h1.2 M1178.4 841.0h1.2 M1200.0 841.0h1.2 M1221.7 841.0h1.2" stroke="rgb(1,139,195)" stroke-opacity="0.7" stroke-width="11.5" stroke-linecap="round"/>
<text x="1245" y="862.6" font-size="60.4">R</text>
</svg>
</body></html>
